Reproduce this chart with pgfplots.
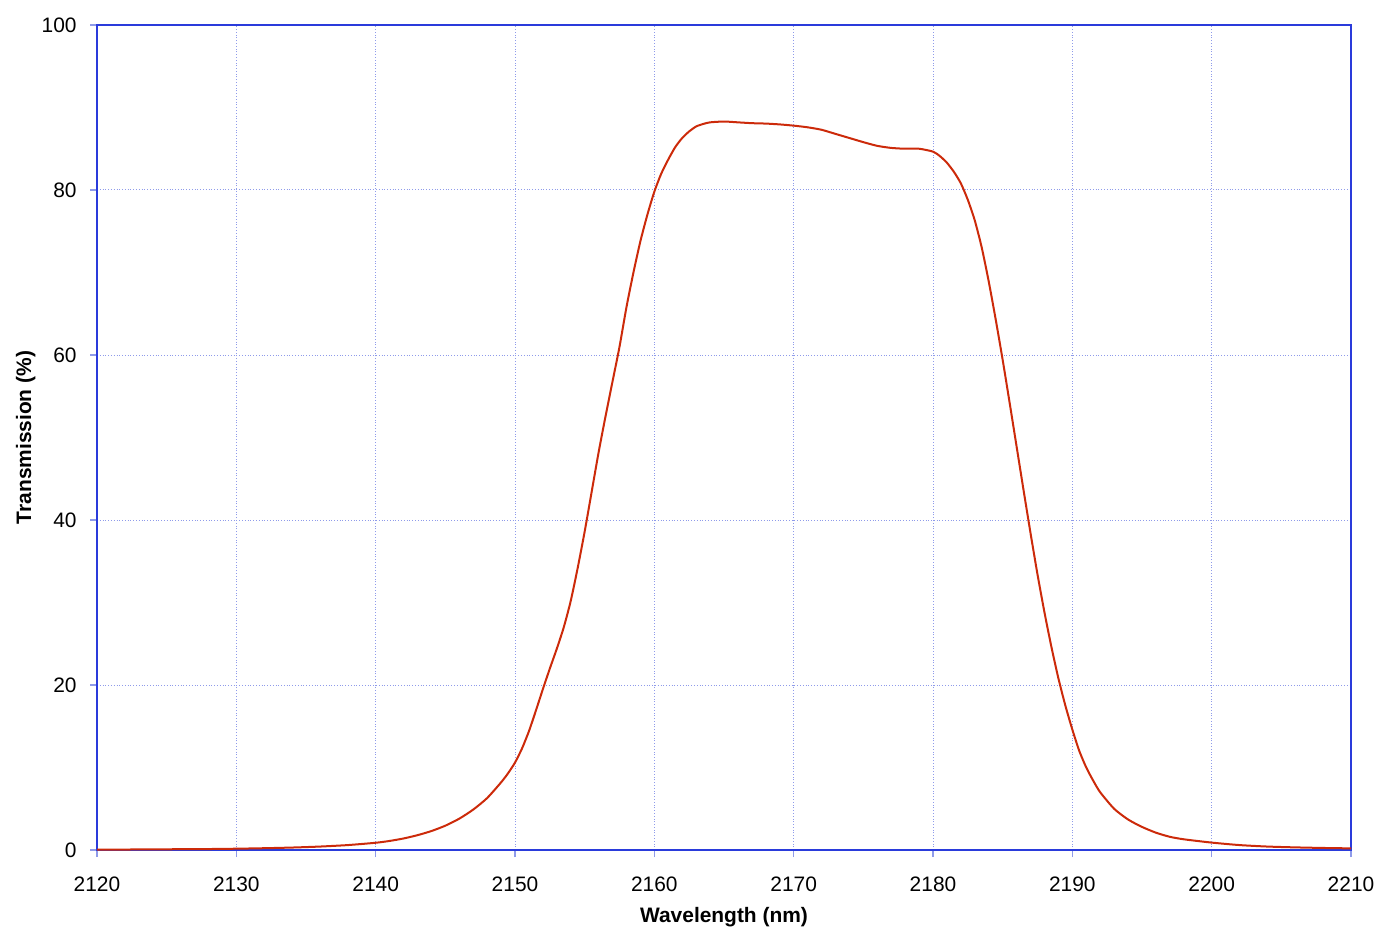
\documentclass[border=0pt]{standalone}
\usepackage{pgfplots}
\pgfplotsset{compat=1.18}
\usepackage{fontspec}
\setmainfont{Liberation Sans}
\definecolor{axblue}{HTML}{2A3BDB}
\definecolor{gridblue}{HTML}{8F9BEA}
\definecolor{curve}{HTML}{CC2A0A}
\begin{document}
\fontsize{10.5}{12}\selectfont
\begin{tikzpicture}
\begin{axis}[
  scale only axis,
  width=627bp, height=412.5bp,
  xmin=2120, xmax=2210, ymin=0, ymax=100,
  xtick={2120,2130,...,2210},
  ytick={0,20,...,100},
  tick pos=left,
  /pgf/number format/assume math mode=true,
  xticklabel style={/pgf/number format/1000 sep={}, font=\fontsize{10.5}{12}\selectfont, yshift=-6bp},
  yticklabel style={font=\fontsize{10.5}{12}\selectfont, xshift=-3bp},
  axis line style={axblue, line width=1bp},
  tick style={gridblue, line width=0.6bp},
  tick align=outside,
  major tick length=3.5bp,
  xmajorgrids, ymajorgrids,
  major grid style={gridblue, densely dotted, line width=0.5bp},
  xlabel={\bfseries Wavelength (nm)},
  ylabel={\bfseries Transmission (\%)},
  xlabel style={font=\fontsize{10.5}{12}\selectfont, yshift=-1bp},
  ylabel style={font=\fontsize{10.5}{12}\selectfont, yshift=-4bp},
  clip=true,
]
\coordinate (sw) at (rel axis cs:0,0);
\coordinate (ne) at (rel axis cs:1,1);
\addplot[curve, line width=1bp, smooth, tension=0.4] coordinates {
(2120,0.05) (2122,0.06) (2124,0.08) (2126,0.1) (2128,0.12) (2130,0.16)
(2132,0.22) (2134,0.3) (2136,0.42) (2138,0.6) (2140,0.88) (2141,1.1)
(2142,1.4) (2143,1.8) (2144,2.3) (2145,2.95) (2146,3.8) (2147,4.9)
(2148,6.3) (2149,8.2) (2149.5,9.3) (2150,10.6) (2150.5,12.3) (2151,14.4) (2151.5,16.9)
(2152,19.5) (2152.5,22.0) (2153,24.4) (2153.5,27.0) (2154,30.2) (2154.5,34.2)
(2155,38.6) (2155.5,43.4) (2156,48.2) (2156.5,52.6) (2157,56.8) (2157.5,61.0)
(2158,65.8) (2158.5,70.0) (2159,73.8) (2159.5,77.0) (2160,79.8) (2160.5,82.0)
(2161,83.7) (2161.5,85.2) (2162,86.3) (2162.5,87.1) (2163,87.7) (2163.5,88.0)
(2164,88.2) (2165,88.3) (2166,88.2) (2167,88.1) (2168,88.05) (2169,87.95)
(2170,87.8) (2171,87.6) (2172,87.3) (2173,86.8) (2174,86.3) (2175,85.8)
(2176,85.35) (2177,85.1) (2178,85.0) (2179,85.0) (2180,84.65) (2180.5,84.1)
(2181,83.3) (2181.5,82.2) (2182,80.8) (2182.5,78.8) (2183,76.3) (2183.5,73.0)
(2184,68.9) (2184.5,64.3) (2185,59.4) (2185.5,54.2) (2186,48.9) (2186.5,43.6)
(2187,38.4) (2187.5,33.4) (2188,28.8) (2188.5,24.6) (2189,20.8) (2189.5,17.5)
(2190,14.6) (2190.5,12.0) (2191,10.0) (2191.5,8.4) (2192,7.0) (2193,5.0)
(2194,3.7) (2195,2.8) (2196,2.1) (2197,1.6) (2198,1.3) (2200,0.9)
(2202,0.6) (2204,0.42) (2206,0.32) (2208,0.25) (2210,0.2)
};
\end{axis}
\path ([shift={(-48.5bp,-45.5bp)}]sw) rectangle ([shift={(19.5bp,12.5bp)}]ne);
\end{tikzpicture}
\end{document}
